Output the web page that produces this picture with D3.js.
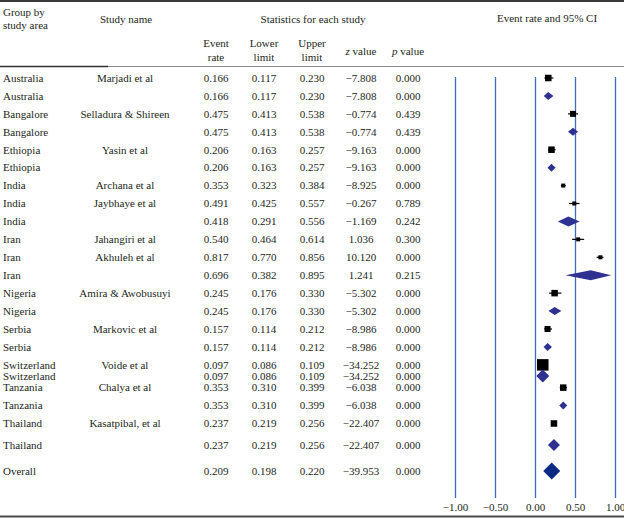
<!DOCTYPE html>
<html>
<head>
<meta charset="utf-8">
<script src="https://cdn.jsdelivr.net/npm/d3@7"></script>
<style>
  html, body { margin: 0; padding: 0; background: #fff; }
  svg { display: block; font-family: "Liberation Serif", "DejaVu Serif", serif; }
</style>
</head>
<body>
<svg id="chart" width="624" height="518"></svg>
<script>
// ---------------- DATA ----------------
const groups = ["Australia","Australia","Bangalore","Bangalore","Ethiopia","Ethiopia",
  "India","India","India","Iran","Iran","Iran","Nigeria","Nigeria","Serbia","Serbia",
  "Switzerland","Switzerland","Tanzania","Tanzania","Thailand","Thailand","Overall"];
const studies = ["Marjadi et al","","Selladura & Shireen","","Yasin et al","",
  "Archana et al","Jaybhaye et al","","Jahangiri et al","Akhuleh et al","",
  "Amira & Awobusuyi","","Markovic et al","","Voide et al","","Chalya et al","",
  "Kasatpibal, et al","",""];
const rowTypes = ["study","subgroup","study","subgroup","study","subgroup",
  "study","study","subgroup","study","study","subgroup","study","subgroup","study","subgroup",
  "study","subgroup","study","subgroup","study","subgroup","overall"];
const eventRates = [0.166,0.166,0.475,0.475,0.206,0.206,0.353,0.491,0.418,0.540,0.817,0.696,
  0.245,0.245,0.157,0.157,0.097,0.097,0.353,0.353,0.237,0.237,0.209];
const lowerLimits = [0.117,0.117,0.413,0.413,0.163,0.163,0.323,0.425,0.291,0.464,0.770,0.382,
  0.176,0.176,0.114,0.114,0.086,0.086,0.310,0.310,0.219,0.219,0.198];
const upperLimits = [0.230,0.230,0.538,0.538,0.257,0.257,0.384,0.557,0.556,0.614,0.856,0.895,
  0.330,0.330,0.212,0.212,0.109,0.109,0.399,0.399,0.256,0.256,0.220];
const zValues = [-7.808,-7.808,-0.774,-0.774,-9.163,-9.163,-8.925,-0.267,-1.169,1.036,10.120,1.241,
  -5.302,-5.302,-8.986,-8.986,-34.252,-34.252,-6.038,-6.038,-22.407,-22.407,-39.953];
const pValues = [0.000,0.000,0.439,0.439,0.000,0.000,0.000,0.789,0.242,0.300,0.000,0.215,
  0.000,0.000,0.000,0.000,0.000,0.000,0.000,0.000,0.000,0.000,0.000];
// relative weights (marker size)
const weights = [6.5,8,6,8,6.5,8,4,4,10,4,4,10,6.5,8,6,8,11.5,13,6.5,8,6.5,12,17];
const axisTicks = [-1, -0.5, 0, 0.5, 1];

// ---------------- LAYOUT ----------------
const rowGapUnits = [0,1,1,1,1,1,1,1,1,1,1,1,1,1,1,1,1,0.62,0.65,1,1,1.2,1.45];
const rowUnits = d3.cumsum(rowGapUnits);

const svg = d3.select("#chart");
const textColor = "#231f20";
const fs = 11;

const x = d3.scaleLinear().domain([-1, 1]).range([455, 615]);
const y = d3.scaleLinear().domain([0, rowUnits[rowUnits.length - 1]]).range([78, 471]);
const size = d3.scaleLinear().domain([0, 1]).range([0, 1]);

// rules
svg.append("line").attr("x1",0).attr("x2",624).attr("y1",1).attr("y2",1)
  .attr("stroke","#3a3a3a").attr("stroke-width",2);
svg.append("line").attr("x1",0).attr("x2",624).attr("y1",66.5).attr("y2",66.5)
  .attr("stroke","#8a8a8a").attr("stroke-width",1.2);
svg.append("line").attr("x1",0).attr("x2",108).attr("y1",66.5).attr("y2",66.5)
  .attr("stroke","#333").attr("stroke-width",1.4);
svg.append("line").attr("x1",0).attr("x2",624).attr("y1",516.5).attr("y2",516.5)
  .attr("stroke","#4a4a4a").attr("stroke-width",2);

// header
function txt(t, xx, yy, anchor, opts) {
  const el = svg.append("text").attr("x", xx).attr("y", yy).attr("dy","0.35em")
    .attr("text-anchor", anchor).attr("font-size", fs).attr("fill", textColor);
  if (opts && opts.italicFirst) {
    el.append("tspan").attr("font-style","italic").text(opts.italicFirst);
    el.append("tspan").text(t);
  } else el.text(t);
  return el;
}
txt("Group by", 3, 12, "start");
txt("study area", 3, 25, "start");
txt("Study name", 126, 19, "middle");
txt("Statistics for each study", 313, 19, "middle");
txt("Event rate and 95% CI", 547, 18, "middle");
const colX = { er: 216, lo: 264, up: 312, z: 361, p: 408 };
txt("Event", colX.er, 43, "middle"); txt("rate", colX.er, 57, "middle");
txt("Lower", colX.lo, 43, "middle"); txt("limit", colX.lo, 57, "middle");
txt("Upper", colX.up, 43, "middle"); txt("limit", colX.up, 57, "middle");
txt(" value", colX.z, 51, "middle", { italicFirst: "z" });
txt(" value", colX.p, 51, "middle", { italicFirst: "p" });

// gridlines / axis
const axisY = 498;
const axis = d3.axisBottom(x).tickValues(axisTicks).tickFormat(d3.format(".2f"))
  .tickSizeInner(-(axisY - 77)).tickSizeOuter(0).tickPadding(5);
const ax = svg.append("g").attr("transform", `translate(0,${axisY})`).call(axis);
ax.select(".domain").remove();
ax.selectAll(".tick line").attr("stroke", "#3f6cbf").attr("stroke-width", 1.3);
ax.selectAll(".tick text").attr("font-size", fs).attr("fill", textColor)
  .attr("font-family", '"Liberation Serif", "DejaVu Serif", serif');

// table rows
const fmt3 = d3.format(".3f");
const rows = groups.map((g, i) => ({
  g, s: studies[i], t: rowTypes[i], er: eventRates[i], lo: lowerLimits[i], up: upperLimits[i],
  z: zValues[i], p: pValues[i], w: weights[i], yy: y(rowUnits[i])
}));
rows.forEach(r => {
  txt(r.g, 3, r.yy, "start");
  if (r.s) txt(r.s, 125, r.yy, "middle");
  txt(fmt3(r.er), colX.er, r.yy, "middle");
  txt(fmt3(r.lo), colX.lo, r.yy, "middle");
  txt(fmt3(r.up), colX.up, r.yy, "middle");
  txt(fmt3(r.z), colX.z, r.yy, "middle");
  txt(fmt3(r.p), colX.p, r.yy, "middle");
});

// markers
const studyRows = rows.filter(r => r.t === "study");
svg.append("g").selectAll("line").data(studyRows).join("line")
  .attr("x1", d => x(d.lo)).attr("x2", d => x(d.up))
  .attr("y1", d => d.yy).attr("y2", d => d.yy)
  .attr("stroke", "#000").attr("stroke-width", 1.2);
svg.append("g").selectAll("rect").data(studyRows).join("rect")
  .attr("x", d => x(d.er) - size(d.w) / 2).attr("y", d => d.yy - size(d.w) / 2)
  .attr("width", d => size(d.w)).attr("height", d => size(d.w))
  .attr("fill", "#000");

const diaRows = rows.filter(r => r.t !== "study");
svg.append("g").selectAll("path").data(diaRows).join("path")
  .attr("d", d => {
    const h = size(d.w) / 2;
    const cx = x(d.er);
    const hw = Math.max((x(d.up) - x(d.lo)) / 2, h);
    const l = Math.min(x(d.lo), cx - hw), rr = Math.max(x(d.up), cx + hw);
    return `M${l},${d.yy} L${cx},${d.yy - h} L${rr},${d.yy} L${cx},${d.yy + h} Z`;
  })
  .attr("fill", d => d.t === "overall" ? "#0c2a84" : "#2e3192");
</script>
</body>
</html>
